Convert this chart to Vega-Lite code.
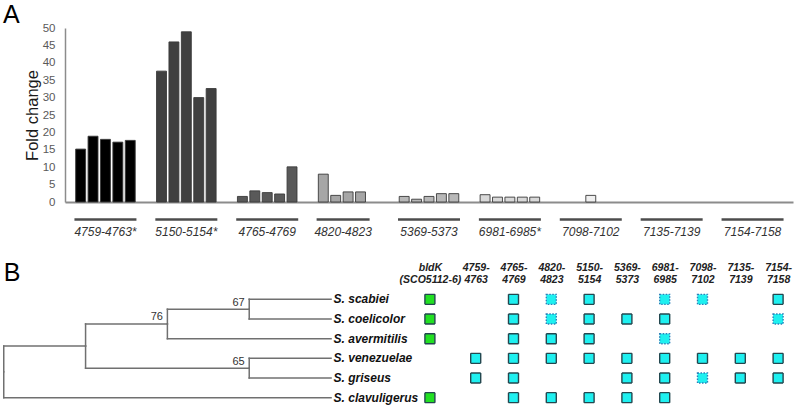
{
  "$schema": "https://vega.github.io/schema/vega-lite/v6.json",
  "padding": {"left": 2, "top": 2, "right": 0, "bottom": 0},
  "background": "white",
  "config": {"view": {"stroke": null}, "font": "Liberation Sans"},
  "datasets": {
    "bars": [
      {"group": "4759-4763*", "slot": 1, "value": 15.2},
      {"group": "4759-4763*", "slot": 2, "value": 18.9},
      {"group": "4759-4763*", "slot": 3, "value": 18.0},
      {"group": "4759-4763*", "slot": 4, "value": 17.2},
      {"group": "4759-4763*", "slot": 5, "value": 17.7},
      {"group": "5150-5154*", "slot": 1, "value": 37.6},
      {"group": "5150-5154*", "slot": 2, "value": 46.0},
      {"group": "5150-5154*", "slot": 3, "value": 48.9},
      {"group": "5150-5154*", "slot": 4, "value": 30.0},
      {"group": "5150-5154*", "slot": 5, "value": 32.6},
      {"group": "4765-4769", "slot": 1, "value": 1.6},
      {"group": "4765-4769", "slot": 2, "value": 3.2},
      {"group": "4765-4769", "slot": 3, "value": 2.7},
      {"group": "4765-4769", "slot": 4, "value": 2.3},
      {"group": "4765-4769", "slot": 5, "value": 10.1},
      {"group": "4820-4823", "slot": 1, "value": 8.0},
      {"group": "4820-4823", "slot": 2, "value": 1.9},
      {"group": "4820-4823", "slot": 3, "value": 2.9},
      {"group": "4820-4823", "slot": 4, "value": 2.9},
      {"group": "5369-5373", "slot": 1, "value": 1.6},
      {"group": "5369-5373", "slot": 2, "value": 0.8},
      {"group": "5369-5373", "slot": 3, "value": 1.6},
      {"group": "5369-5373", "slot": 4, "value": 2.4},
      {"group": "5369-5373", "slot": 5, "value": 2.4},
      {"group": "6981-6985*", "slot": 1, "value": 2.1},
      {"group": "6981-6985*", "slot": 2, "value": 1.4},
      {"group": "6981-6985*", "slot": 3, "value": 1.4},
      {"group": "6981-6985*", "slot": 4, "value": 1.4},
      {"group": "6981-6985*", "slot": 5, "value": 1.4},
      {"group": "7098-7102", "slot": 3, "value": 1.9}
    ],
    "groups": [
      {"group": "4759-4763*"}, {"group": "5150-5154*"}, {"group": "4765-4769"},
      {"group": "4820-4823"}, {"group": "5369-5373"}, {"group": "6981-6985*"},
      {"group": "7098-7102"}, {"group": "7135-7139"}, {"group": "7154-7158"}
    ],
    "edges": [
      {"pdepth": 0, "py": 4.6875, "cdepth": 1, "cy": 3.375},
      {"pdepth": 0, "py": 4.6875, "cdepth": 4, "cy": 6},
      {"pdepth": 1, "py": 3.375, "cdepth": 2, "cy": 2.25},
      {"pdepth": 1, "py": 3.375, "cdepth": 3, "cy": 4.5},
      {"pdepth": 2, "py": 2.25, "cdepth": 3, "cy": 1.5},
      {"pdepth": 2, "py": 2.25, "cdepth": 4, "cy": 3},
      {"pdepth": 3, "py": 1.5, "cdepth": 4, "cy": 1},
      {"pdepth": 3, "py": 1.5, "cdepth": 4, "cy": 2},
      {"pdepth": 3, "py": 4.5, "cdepth": 4, "cy": 4},
      {"pdepth": 3, "py": 4.5, "cdepth": 4, "cy": 5}
    ],
    "leaves": [
      {"species": "S. scabiei", "depth": 4, "order": 1},
      {"species": "S. coelicolor", "depth": 4, "order": 2},
      {"species": "S. avermitilis", "depth": 4, "order": 3},
      {"species": "S. venezuelae", "depth": 4, "order": 4},
      {"species": "S. griseus", "depth": 4, "order": 5},
      {"species": "S. clavuligerus", "depth": 4, "order": 6}
    ],
    "nodes": [
      {"depth": 3, "y": 1.5, "support": 67},
      {"depth": 2, "y": 2.25, "support": 76},
      {"depth": 3, "y": 4.5, "support": 65}
    ],
    "cells": [
      {"species": "S. scabiei", "col": "bldK", "type": "full"},
      {"species": "S. scabiei", "col": "4765-4769", "type": "full"},
      {"species": "S. scabiei", "col": "4820-4823", "type": "partial"},
      {"species": "S. scabiei", "col": "5150-5154", "type": "full"},
      {"species": "S. scabiei", "col": "6981-6985", "type": "partial"},
      {"species": "S. scabiei", "col": "7098-7102", "type": "partial"},
      {"species": "S. scabiei", "col": "7154-7158", "type": "full"},
      {"species": "S. coelicolor", "col": "bldK", "type": "full"},
      {"species": "S. coelicolor", "col": "4765-4769", "type": "full"},
      {"species": "S. coelicolor", "col": "4820-4823", "type": "partial"},
      {"species": "S. coelicolor", "col": "5150-5154", "type": "full"},
      {"species": "S. coelicolor", "col": "5369-5373", "type": "full"},
      {"species": "S. coelicolor", "col": "6981-6985", "type": "full"},
      {"species": "S. coelicolor", "col": "7154-7158", "type": "partial"},
      {"species": "S. avermitilis", "col": "bldK", "type": "full"},
      {"species": "S. avermitilis", "col": "4765-4769", "type": "full"},
      {"species": "S. avermitilis", "col": "4820-4823", "type": "full"},
      {"species": "S. avermitilis", "col": "5150-5154", "type": "full"},
      {"species": "S. avermitilis", "col": "6981-6985", "type": "partial"},
      {"species": "S. venezuelae", "col": "4759-4763", "type": "full"},
      {"species": "S. venezuelae", "col": "4765-4769", "type": "full"},
      {"species": "S. venezuelae", "col": "4820-4823", "type": "full"},
      {"species": "S. venezuelae", "col": "5150-5154", "type": "full"},
      {"species": "S. venezuelae", "col": "5369-5373", "type": "full"},
      {"species": "S. venezuelae", "col": "6981-6985", "type": "full"},
      {"species": "S. venezuelae", "col": "7098-7102", "type": "full"},
      {"species": "S. venezuelae", "col": "7135-7139", "type": "full"},
      {"species": "S. venezuelae", "col": "7154-7158", "type": "full"},
      {"species": "S. griseus", "col": "4759-4763", "type": "full"},
      {"species": "S. griseus", "col": "4765-4769", "type": "full"},
      {"species": "S. griseus", "col": "5369-5373", "type": "full"},
      {"species": "S. griseus", "col": "6981-6985", "type": "full"},
      {"species": "S. griseus", "col": "7098-7102", "type": "partial"},
      {"species": "S. griseus", "col": "7135-7139", "type": "full"},
      {"species": "S. griseus", "col": "7154-7158", "type": "full"},
      {"species": "S. clavuligerus", "col": "bldK", "type": "full"},
      {"species": "S. clavuligerus", "col": "4765-4769", "type": "full"},
      {"species": "S. clavuligerus", "col": "4820-4823", "type": "full"},
      {"species": "S. clavuligerus", "col": "5150-5154", "type": "full"},
      {"species": "S. clavuligerus", "col": "5369-5373", "type": "full"},
      {"species": "S. clavuligerus", "col": "6981-6985", "type": "full"}
    ]
  },
  "concat": [
    {
      "width": 728,
      "height": 174,
      "title": {"text": "A", "anchor": "start", "frame": "group", "fontSize": 25, "fontWeight": "normal", "color": "#000000", "dx": -62, "offset": -5.5},
      "layer": [
        {
          "data": {"name": "bars"},
          "mark": {"type": "bar", "stroke": "#3a3a3a", "strokeWidth": 0.9},
          "encoding": {
            "x": {
              "field": "group", "type": "nominal", "title": null, "sort": null,
              "scale": {"domain": ["4759-4763*", "5150-5154*", "4765-4769", "4820-4823", "5369-5373", "6981-6985*", "7098-7102", "7135-7139", "7154-7158"], "paddingInner": 0, "paddingOuter": 0},
              "axis": {
                "labelAngle": 0, "labelFontSize": 12, "labelFontStyle": "italic", "labelColor": "#333333",
                "labelPadding": 24, "ticks": false, "tickSize": 0, "domainColor": "#8c8c8c", "domainWidth": 2,
                "labelOverlap": false,
                "labelOffset": {"condition": {"test": "datum.value === '4820-4823'", "value": -5}, "value": 0}
              }
            },
            "xOffset": {"field": "slot", "type": "nominal", "scale": {"domain": [1, 2, 3, 4, 5], "paddingInner": 0.2, "paddingOuter": 0.86}},
            "y": {
              "field": "value", "type": "quantitative", "title": "Fold change",
              "scale": {"domain": [0, 50], "nice": false},
              "axis": {
                "values": [0, 5, 10, 15, 20, 25, 30, 35, 40, 45, 50], "grid": false, "ticks": false, "tickSize": 0,
                "labelOverlap": false, "labelPadding": 10, "labelFontSize": 11.5, "labelColor": "#595959",
                "titleFontSize": 16.5, "titleFontWeight": "normal", "titleColor": "#1a1a1a", "titlePadding": 2,
                "domainColor": "#8c8c8c", "domainWidth": 1.5
              }
            },
            "color": {
              "field": "group", "type": "nominal", "legend": null,
              "scale": {"domain": ["4759-4763*", "5150-5154*", "4765-4769", "4820-4823", "5369-5373", "6981-6985*", "7098-7102", "7135-7139", "7154-7158"],
                        "range": ["#000000", "#404040", "#595959", "#a6a6a6", "#b8b8b8", "#d9d9d9", "#f0f0f0", "#ffffff", "#ffffff"]}
            }
          }
        },
        {
          "data": {"name": "groups"},
          "mark": {"type": "tick", "color": "#000000", "thickness": 2.5, "xOffset": {"expr": "datum.group === '4820-4823' ? -5 : 0"}},
          "encoding": {
            "x": {
              "field": "group", "type": "nominal", "title": null, "sort": null,
              "axis": {
                "labelAngle": 0, "labelFontSize": 12, "labelFontStyle": "italic", "labelColor": "#333333",
                "labelPadding": 24, "ticks": false, "tickSize": 0, "domainColor": "#8c8c8c", "domainWidth": 2,
                "labelOverlap": false,
                "labelOffset": {"condition": {"test": "datum.value === '4820-4823'", "value": -5}, "value": 0}
              }
            },
            "y": {
              "datum": -5, "type": "quantitative", "title": "Fold change",
              "scale": {"domain": [0, 50], "nice": false},
              "axis": {
                "values": [0, 5, 10, 15, 20, 25, 30, 35, 40, 45, 50], "grid": false, "ticks": false, "tickSize": 0,
                "labelOverlap": false, "labelPadding": 10, "labelFontSize": 11.5, "labelColor": "#595959",
                "titleFontSize": 16.5, "titleFontWeight": "normal", "titleColor": "#1a1a1a", "titlePadding": 2,
                "domainColor": "#8c8c8c", "domainWidth": 1.5
              }
            },
            "size": {"condition": {"test": "datum.group === '4820-4823'", "value": 53}, "value": 62}
          }
        }
      ]
    },
    {
      "spacing": -21.7,
      "hconcat": [
        {
          "width": 300,
          "height": 127.8,
          "title": {"text": "B", "anchor": "start", "frame": "group", "fontSize": 25, "fontWeight": "normal", "color": "#000000", "dx": -61.25, "offset": -6.3},
          "layer": [
            {
              "data": {"name": "edges"},
              "mark": {"type": "rule", "color": "#707070", "strokeWidth": 1.5, "strokeCap": "square"},
              "encoding": {
                "x": {"field": "pdepth", "type": "quantitative", "scale": {"domain": [0.7486, 4.415], "nice": false, "zero": false}, "axis": null},
                "x2": {"field": "cdepth"},
                "y": {"field": "cy", "type": "quantitative", "scale": {"domain": [0, 6.5], "nice": false, "zero": false, "reverse": true}, "axis": null}
              }
            },
            {
              "data": {"name": "edges"},
              "mark": {"type": "rule", "color": "#707070", "strokeWidth": 1.5, "strokeCap": "square"},
              "encoding": {
                "x": {"field": "pdepth", "type": "quantitative", "scale": {"domain": [0.7486, 4.415], "nice": false, "zero": false}, "axis": null},
                "y": {"field": "py", "type": "quantitative", "scale": {"domain": [0, 6.5], "nice": false, "zero": false, "reverse": true}, "axis": null},
                "y2": {"field": "cy"}
              }
            },
            {
              "data": {"name": "leaves"},
              "mark": {"type": "text", "align": "left", "baseline": "middle", "dx": 2.5, "fontSize": 12, "fontWeight": "bold", "fontStyle": "italic", "color": "#111111"},
              "encoding": {
                "x": {"field": "depth", "type": "quantitative", "scale": {"domain": [0.7486, 4.415], "nice": false, "zero": false}, "axis": null},
                "y": {"field": "order", "type": "quantitative", "scale": {"domain": [0, 6.5], "nice": false, "zero": false, "reverse": true}, "axis": null},
                "text": {"field": "species"}
              }
            },
            {
              "data": {"name": "nodes"},
              "mark": {"type": "text", "align": "right", "baseline": "alphabetic", "dx": -4.5, "dy": -3.5, "fontSize": 11, "color": "#333333"},
              "encoding": {
                "x": {"field": "depth", "type": "quantitative", "scale": {"domain": [0.7486, 4.415], "nice": false, "zero": false}, "axis": null},
                "y": {"field": "y", "type": "quantitative", "scale": {"domain": [0, 6.5], "nice": false, "zero": false, "reverse": true}, "axis": null},
                "text": {"field": "support"}
              }
            }
          ]
        },
        {
          "width": 378,
          "height": 127.8,
          "data": {"name": "cells"},
          "transform": [{"lookup": "species", "from": {"data": {"name": "leaves"}, "key": "species", "fields": ["order"]}}],
          "mark": {"type": "square", "size": 100, "filled": true, "opacity": 1, "strokeWidth": 1.4, "xOffset": {"expr": "datum.col === 'bldK' ? -8 : 0"}},
          "encoding": {
            "x": {
              "field": "col", "type": "nominal", "sort": null,
              "scale": {"type": "point", "domain": ["bldK", "4759-4763", "4765-4769", "4820-4823", "5150-5154", "5369-5373", "6981-6985", "7098-7102", "7135-7139", "7154-7158"], "padding": 0.5},
              "axis": {
                "orient": "top", "title": null, "domain": false, "ticks": false, "tickSize": 0, "labelAngle": 0,
                "labelFontSize": 10.5, "labelFontWeight": "bold", "labelFontStyle": "italic", "labelColor": "#222222",
                "labelLineHeight": 12.3, "labelPadding": 7.7, "labelOverlap": false,
                "labelExpr": "datum.value === 'bldK' ? ['bldK', '(SCO5112-6)'] : [slice(datum.value, 0, 5), slice(datum.value, 5)]",
                "labelOffset": {"condition": {"test": "datum.value === 'bldK'", "value": -8}, "value": 0}
              }
            },
            "y": {"field": "order", "type": "quantitative", "scale": {"domain": [0, 6.5], "nice": false, "zero": false, "reverse": true}, "axis": null},
            "fill": {"condition": {"test": "datum.col === 'bldK'", "value": "#22e022"}, "value": "#1ef0f0"},
            "stroke": {"condition": {"test": "datum.type === 'partial'", "value": "#2c7fb8"}, "value": "#23474f"},
            "strokeDash": {"condition": {"test": "datum.type === 'partial'", "value": [1.5, 1.5]}, "value": [1, 0]}
          }
        }
      ]
    }
  ],
  "columns": 1,
  "align": "none",
  "spacing": 23.7
}
